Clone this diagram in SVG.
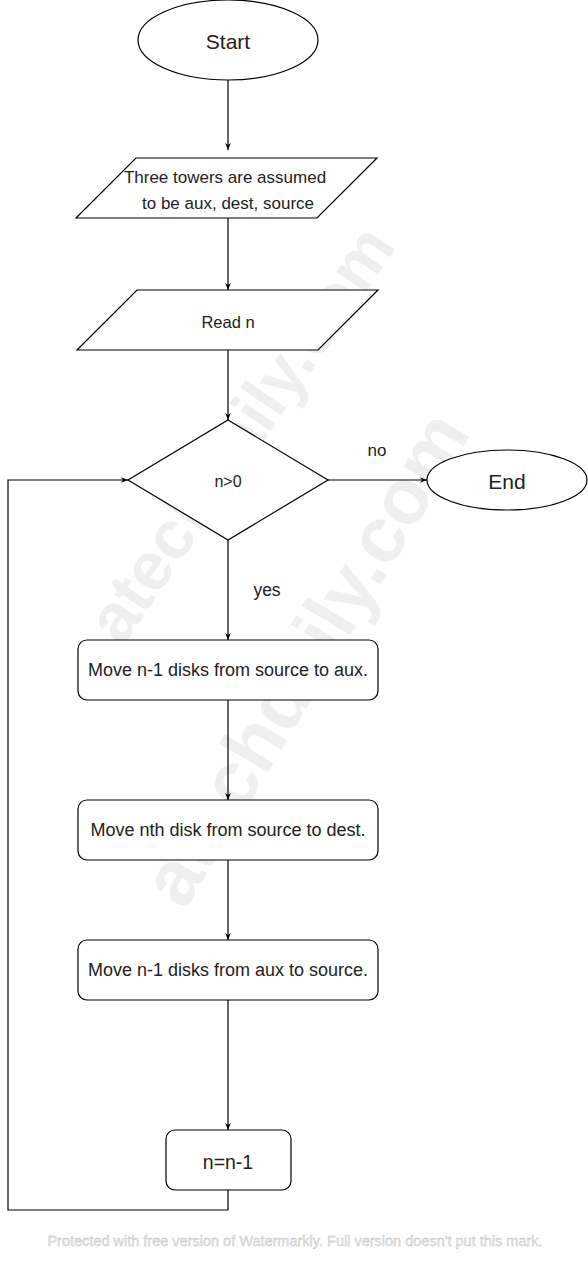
<svg xmlns="http://www.w3.org/2000/svg" width="588" height="1264" viewBox="0 0 588 1264">
<style>
.s{fill:#fff;stroke:#000;stroke-width:1.2}
.t{font-family:"Liberation Sans",Arial,sans-serif;fill:#222;text-anchor:middle;dominant-baseline:central}
.c{fill:none;stroke:#000;stroke-width:1.2}
.wm{font-family:"Liberation Sans",Arial,sans-serif;font-weight:bold;fill:#000;opacity:0.06;text-anchor:middle;dominant-baseline:central}
</style>
<defs>
<marker id="a" viewBox="0 0 10 10" refX="10" refY="5" markerWidth="7" markerHeight="7" orient="auto" markerUnits="userSpaceOnUse">
<path d="M0,1 L10,5 L0,9 L3,5 Z" fill="#000"/>
</marker>
</defs>
<rect width="588" height="1264" fill="#fff"/>
<g id="watermark">
<text class="wm" font-size="68" transform="translate(240,433) rotate(-55.5)">atechdaily.com</text>
<text class="wm" font-size="78" transform="translate(305,658) rotate(-59)">atechdaily.com</text>
<text font-family="Liberation Sans,Arial,sans-serif" font-size="14.5" fill="#e4e4e4" stroke="#bbb" stroke-width="0.3" text-anchor="middle" x="295" y="1246">Protected with free version of Watermarkly. Full version doesn't put this mark.</text>
</g>
<g id="connectors">
<line class="c" x1="228" y1="80" x2="228" y2="150" marker-end="url(#a)"/>
<line class="c" x1="228" y1="218" x2="228" y2="290" marker-end="url(#a)"/>
<line class="c" x1="228" y1="350" x2="228" y2="420" marker-end="url(#a)"/>
<line class="c" x1="328" y1="480" x2="427" y2="480" marker-end="url(#a)"/>
<line class="c" x1="228" y1="540" x2="228" y2="640" marker-end="url(#a)"/>
<line class="c" x1="228" y1="700" x2="228" y2="800" marker-end="url(#a)"/>
<line class="c" x1="228" y1="860" x2="228" y2="940" marker-end="url(#a)"/>
<line class="c" x1="228" y1="1000" x2="228" y2="1130" marker-end="url(#a)"/>
<polyline class="c" points="228,1190 228,1210 8,1210 8,480 128,480" marker-end="url(#a)"/>
<text class="t" x="377" y="450" font-size="17">no</text>
<text class="t" x="267" y="590" font-size="17.5">yes</text>
</g>
<g id="start">
<ellipse class="s" cx="228" cy="40" rx="90" ry="40"/>
<text class="t" x="228" y="41" font-size="21">Start</text>
</g>
<g id="towers">
<polygon class="s" points="136,158 377,158 317,218 76,218"/>
<text class="t" x="225" y="177" font-size="17">Three towers are assumed</text>
<text class="t" x="228" y="203" font-size="17">to be aux, dest, source</text>
</g>
<g id="read">
<polygon class="s" points="137,290 378,290 318,350 77,350"/>
<text class="t" x="228" y="322" font-size="16.5">Read n</text>
</g>
<g id="cond">
<polygon class="s" points="228,420 328,480 228,540 128,480"/>
<text class="t" x="228" y="481" font-size="16">n&gt;0</text>
</g>
<g id="end">
<ellipse class="s" cx="507" cy="480" rx="80" ry="30"/>
<text class="t" x="507" y="481" font-size="21">End</text>
</g>
<g id="move1">
<rect class="s" x="78" y="640" width="300" height="60" rx="9"/>
<text class="t" x="228" y="670" font-size="18">Move n-1 disks from source to aux.</text>
</g>
<g id="move2">
<rect class="s" x="78" y="800" width="300" height="60" rx="9"/>
<text class="t" x="228" y="830" font-size="18">Move nth disk from source to dest.</text>
</g>
<g id="move3">
<rect class="s" x="78" y="940" width="300" height="60" rx="9"/>
<text class="t" x="228" y="970" font-size="18">Move n-1 disks from aux to source.</text>
</g>
<g id="dec">
<rect class="s" x="166" y="1130" width="125" height="60" rx="9"/>
<text class="t" x="228" y="1162" font-size="19.5">n=n-1</text>
</g>
</svg>
